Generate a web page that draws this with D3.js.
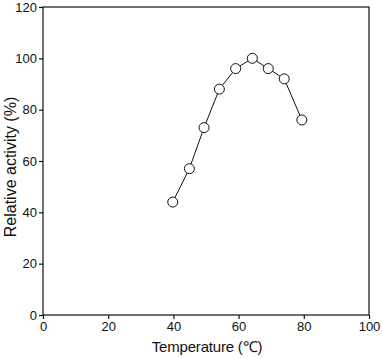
<!DOCTYPE html>
<html><head><meta charset="utf-8">
<script src="https://cdn.jsdelivr.net/npm/d3@7"></script>
<style>body{margin:0;background:#fff}svg{display:block}text{font-family:"Liberation Sans",Arial,sans-serif;fill:#111}</style>
</head><body>
<script>
const temperature = [39.8, 44.9, 49.4, 54.1, 59.1, 64.2, 69.1, 74.0, 79.4];
const activity = [44, 57, 73, 88, 96, 100, 96, 92, 76];
const xTicks = [0, 20, 40, 60, 80, 100];
const yTicks = [0, 20, 40, 60, 80, 100, 120];

const W = 382, H = 358;
const m = {left: 43, right: 13, top: 7, bottom: 43};
const svg = d3.select("body").append("svg").attr("width", W).attr("height", H);
const x = d3.scaleLinear().domain([0, 100]).range([m.left, W - m.right]);
const y = d3.scaleLinear().domain([0, 120]).range([H - m.bottom, m.top]);

svg.append("rect").attr("x", x(0)).attr("y", y(120)).attr("width", x(100) - x(0)).attr("height", y(0) - y(120))
  .attr("fill", "none").attr("stroke", "#111").attr("stroke-width", 1.2);

const xa = svg.append("g").attr("transform", `translate(0,${y(0)})`)
  .call(d3.axisBottom(x).tickValues(xTicks).tickSize(4).tickPadding(3));
const ya = svg.append("g").attr("transform", `translate(${x(0)},0)`)
  .call(d3.axisLeft(y).tickValues(yTicks).tickSize(4).tickPadding(2));
[xa, ya].forEach(g => {
  g.select(".domain").remove();
  g.selectAll("line").attr("stroke", "#111").attr("stroke-width", 1.2);
  g.selectAll("text").attr("font-size", 13).attr("fill", "#111").style("font-family", '"Liberation Sans",Arial,sans-serif');
});

const line = d3.line().x((d, i) => x(temperature[i])).y(d => y(d));
svg.append("path").datum(activity).attr("d", line).attr("fill", "none").attr("stroke", "#111").attr("stroke-width", 1);
svg.selectAll("circle.pt").data(activity).enter().append("circle").attr("class", "pt")
  .attr("cx", (d, i) => x(temperature[i])).attr("cy", d => y(d)).attr("r", 5)
  .attr("fill", "#fff").attr("stroke", "#111").attr("stroke-width", 1);

svg.append("text").attr("x", 207).attr("y", 352).attr("text-anchor", "middle")
  .attr("font-size", 15).attr("letter-spacing", -0.2).text("Temperature (℃)");
svg.append("text").attr("transform", `translate(16,167) rotate(-90)`).attr("text-anchor", "middle")
  .attr("font-size", 16).text("Relative activity (%)");
</script>
</body></html>
